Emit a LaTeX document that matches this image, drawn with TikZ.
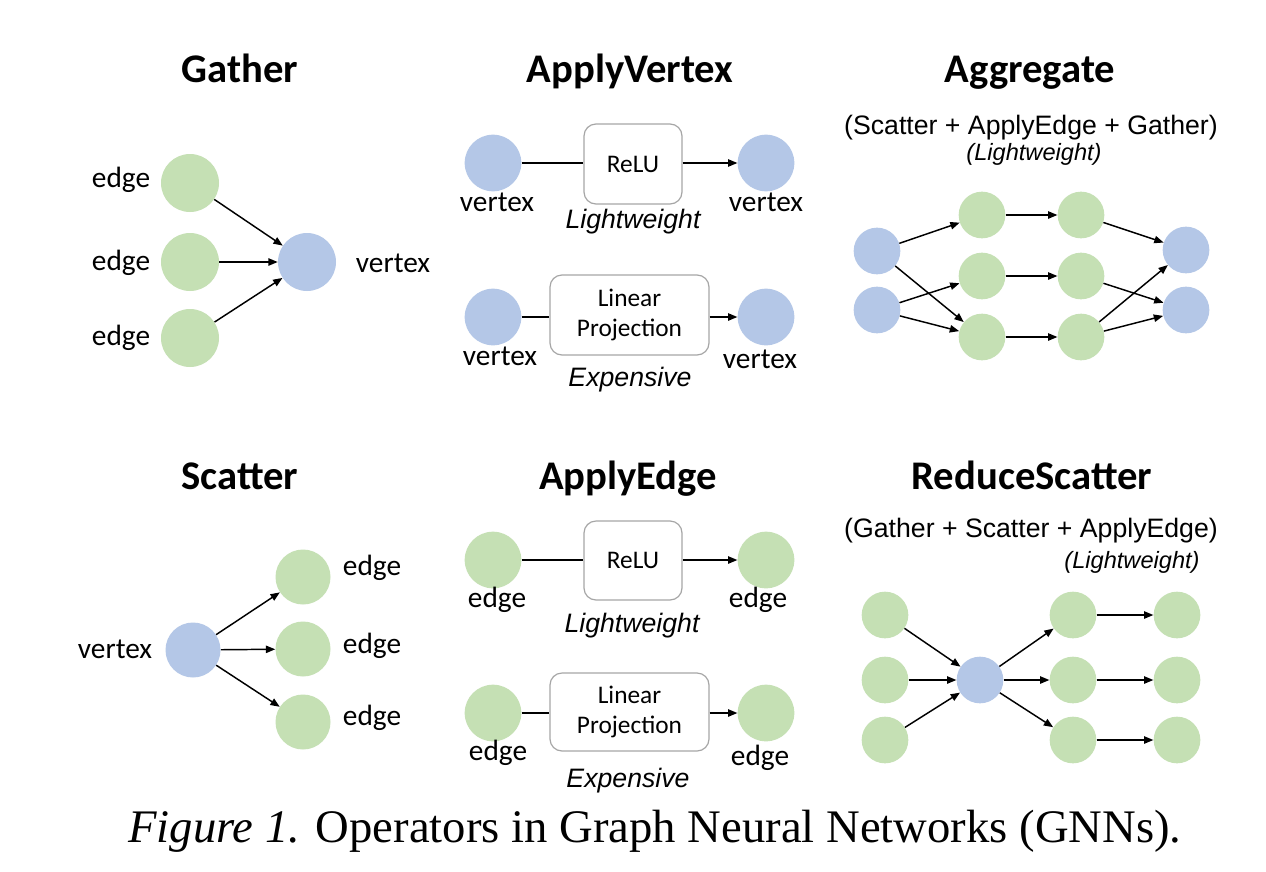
\documentclass[tikz,border=0pt]{standalone}
\usepackage{fontspec}
\setmainfont{Liberation Serif}
\newfontfamily\calfont{Carlito}
\newfontfamily\arialfont{Liberation Sans}
\usetikzlibrary{arrows.meta}
\definecolor{gfill}{HTML}{C5E0B4}
\definecolor{bfill}{HTML}{B4C7E7}
\definecolor{boxgray}{HTML}{A6A6A6}
\begin{document}
\begin{tikzpicture}[x=0.75pt,y=-0.75pt,
 gnode/.style={circle,fill=gfill,inner sep=0pt},
 vnode/.style={circle,fill=bfill,inner sep=0pt},
 bigc/.style={minimum size=43.5pt},
 midc/.style={minimum size=42.5pt},
 scc/.style={minimum size=41.25pt},
 smc/.style={minimum size=35pt},
 arr/.style={-{Triangle[length=7pt,width=5.5pt]},line width=1.1pt},
 ln/.style={line width=1.1pt},
 opbox/.style={draw=boxgray,line width=0.9pt,rounded corners=9pt,inner sep=0pt,
   font=\calfont\fontsize{19}{22.5}\selectfont,align=center},
 ttl/.style={font=\calfont\bfseries\fontsize{30.5}{36}\selectfont,anchor=base},
 lbl/.style={font=\calfont\fontsize{22}{26}\selectfont,anchor=base},
 itl/.style={font=\arialfont\itshape\fontsize{20}{24}\selectfont,anchor=base},
 sub/.style={font=\arialfont\fontsize{20}{24}\selectfont,anchor=base},
 subit/.style={font=\arialfont\itshape\fontsize{17.7}{21}\selectfont,anchor=base}]
\path[use as bounding box,fill=white] (0,0) rectangle (1266,871);

% ---------------- Gather ----------------
\node[ttl] (tG) at (240,82) {Gather};
\node[gnode,bigc] (ga1) at (190,183) {};
\node[gnode,bigc] (ga2) at (190,262) {};
\node[gnode,bigc] (ga3) at (190,338) {};
\node[vnode,bigc] (gv) at (307,262) {};
\node[lbl] (gl1) at (121,187) {edge};
\node[lbl] (gl2) at (121,270) {edge};
\node[lbl] (gl3) at (121,345) {edge};
\node[lbl] (glv) at (393,272) {vertex};
\draw[arr] (ga1) -- (gv);
\draw[arr] (ga2) -- (gv);
\draw[arr] (ga3) -- (gv);

% ---------------- ApplyVertex ----------------
\node[ttl] (tAV) at (630,82) {ApplyVertex};
\node[vnode,midc] (av1) at (493,163) {};
\node[opbox,minimum width=73.5pt,minimum height=60pt] (avb1) at (633,164) {ReLU};
\node[vnode,midc] (av2) at (766,163) {};
\draw[ln] (av1) -- (av1 -| avb1.west);
\draw[arr] (avb1.east |- av2) -- (av2);
\node[lbl] (avl1) at (497,211) {vertex};
\node[lbl] (avl2) at (766,211) {vertex};
\node[itl] (avw) at (633,228) {Lightweight};
\node[vnode,midc] (av3) at (493,317) {};
\node[opbox,minimum width=119.25pt,minimum height=60pt] (avb2) at (629.5,315) {Linear\\Projection};
\node[vnode,midc] (av4) at (766,317) {};
\draw[ln] (av3) -- (av3 -| avb2.west);
\draw[arr] (avb2.east |- av4) -- (av4);
\node[lbl] (avl3) at (500,365) {vertex};
\node[lbl] (avl4) at (760,368) {vertex};
\node[itl] (ave) at (630,386) {Expensive};

% ---------------- Aggregate ----------------
\node[ttl] (tAg) at (1030,82) {Aggregate};
\node[sub] (agsub) at (1031,134) {(Scatter + ApplyEdge + Gather)};
\node[subit] (aglw) at (1034,160) {(Lightweight)};
\node[vnode,smc] (ab1) at (877,251) {};
\node[vnode,smc] (ab2) at (877,310) {};
\node[gnode,smc] (ag1) at (982,215) {};
\node[gnode,smc] (ag2) at (982,276) {};
\node[gnode,smc] (ag3) at (982,337) {};
\node[gnode,smc] (ah1) at (1081,215) {};
\node[gnode,smc] (ah2) at (1081,276) {};
\node[gnode,smc] (ah3) at (1081,337) {};
\node[vnode,smc] (ar1) at (1186,250) {};
\node[vnode,smc] (ar2) at (1186,310) {};
\draw[arr] (ab1) -- (ag1);
\draw[arr] (ab1) -- (ag3);
\draw[arr] (ab2) -- (ag2);
\draw[arr] (ab2) -- (ag3);
\draw[arr] (ag1) -- (ah1);
\draw[arr] (ag2) -- (ah2);
\draw[arr] (ag3) -- (ah3);
\draw[arr] (ah1) -- (ar1);
\draw[arr] (ah2) -- (ar2);
\draw[arr] (ah3) -- (ar1);
\draw[arr] (ah3) -- (ar2);

% ---------------- Scatter ----------------
\node[ttl] (tS) at (240,489) {Scatter};
\node[vnode,scc] (sv) at (193,650) {};
\node[gnode,scc] (sg1) at (303,577) {};
\node[gnode,scc] (sg2) at (303,649) {};
\node[gnode,scc] (sg3) at (303,722) {};
\node[lbl] (svl) at (115,658) {vertex};
\node[lbl] (sl1) at (372,575) {edge};
\node[lbl] (sl2) at (372,653) {edge};
\node[lbl] (sl3) at (372,725) {edge};
\draw[arr] (sv) -- (sg1);
\draw[arr] (sv) -- (sg2);
\draw[arr] (sv) -- (sg3);

% ---------------- ApplyEdge ----------------
\node[ttl] (tAE) at (628,489) {ApplyEdge};
\node[gnode,midc] (ae1) at (493,560) {};
\node[opbox,minimum width=73.5pt,minimum height=59.25pt] (aeb1) at (633,560.5) {ReLU};
\node[gnode,midc] (ae2) at (766,560) {};
\draw[ln] (ae1) -- (ae1 -| aeb1.west);
\draw[arr] (aeb1.east |- ae2) -- (ae2);
\node[lbl] (ael1) at (497,607) {edge};
\node[lbl] (ael2) at (758,607) {edge};
\node[itl] (aew) at (632,632) {Lightweight};
\node[gnode,midc] (ae3) at (493,713) {};
\node[opbox,minimum width=119.25pt,minimum height=58.5pt] (aeb2) at (629.5,712) {Linear\\Projection};
\node[gnode,midc] (ae4) at (766,713) {};
\draw[ln] (ae3) -- (ae3 -| aeb2.west);
\draw[arr] (aeb2.east |- ae4) -- (ae4);
\node[lbl] (ael3) at (498,760) {edge};
\node[lbl] (ael4) at (760,765) {edge};
\node[itl] (aee) at (628,787) {Expensive};

% ---------------- ReduceScatter ----------------
\node[ttl] (tRS) at (1032,489) {ReduceScatter};
\node[sub] (rssub) at (1031,537) {(Gather + Scatter + ApplyEdge)};
\node[subit] (rslw) at (1132,568) {(Lightweight)};
\node[gnode,smc] (rl1) at (885,615) {};
\node[gnode,smc] (rl2) at (885,680) {};
\node[gnode,smc] (rl3) at (885,740) {};
\node[vnode,smc] (rv) at (980,680) {};
\node[gnode,smc] (rm1) at (1073,615) {};
\node[gnode,smc] (rm2) at (1073,680) {};
\node[gnode,smc] (rm3) at (1073,740) {};
\node[gnode,smc] (rr1) at (1177,615) {};
\node[gnode,smc] (rr2) at (1177,680) {};
\node[gnode,smc] (rr3) at (1177,740) {};
\draw[arr] (rl1) -- (rv);
\draw[arr] (rl2) -- (rv);
\draw[arr] (rl3) -- (rv);
\draw[arr] (rv) -- (rm1);
\draw[arr] (rv) -- (rm2);
\draw[arr] (rv) -- (rm3);
\draw[arr] (rm1) -- (rr1);
\draw[arr] (rm2) -- (rr2);
\draw[arr] (rm3) -- (rr3);

% ---------------- Caption ----------------
\node[font=\fontsize{35}{40}\selectfont,anchor=base] (cap) at (655,842)
  {\textit{Figure 1.} Operators in Graph Neural Networks (GNNs).};
\end{tikzpicture}
\end{document}
